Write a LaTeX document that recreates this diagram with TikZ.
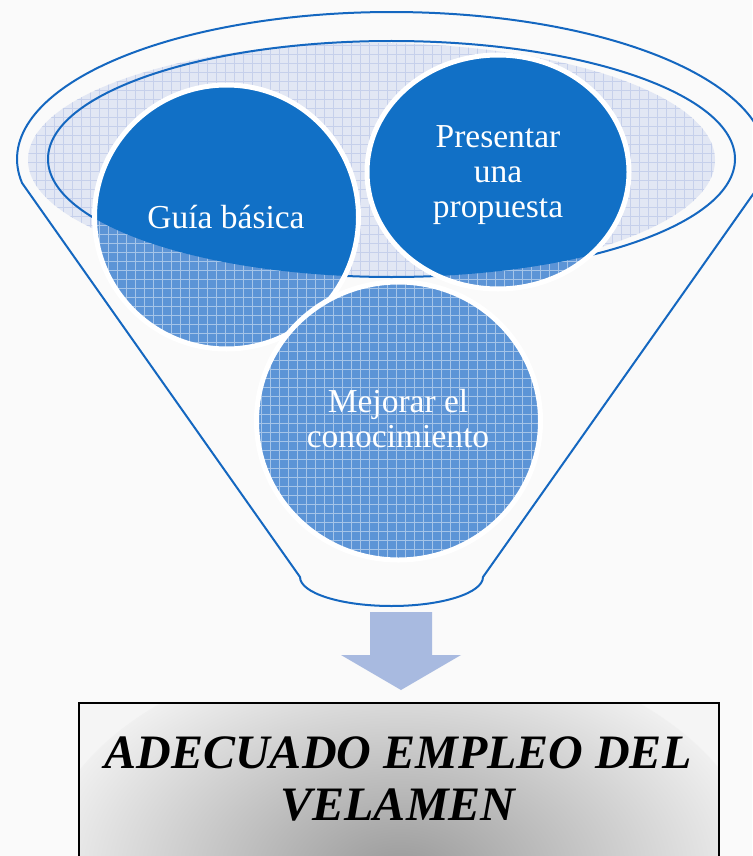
\documentclass[tikz,border=0pt]{standalone}
\usepackage{fontspec}
\setmainfont{Liberation Serif}
\begin{document}
\begin{tikzpicture}[x=1pt,y=1pt]
\definecolor{bgc}{RGB}{250,250,250}
\definecolor{outl}{RGB}{20,103,192}
\definecolor{solidblue}{RGB}{17,112,198}
\definecolor{hatchbase}{RGB}{92,148,214}
\definecolor{palebase}{RGB}{226,231,244}
\definecolor{paleline}{RGB}{198,208,235}
\definecolor{arrowc}{RGB}{168,186,224}
\tikzset{
  outline/.style={draw=outl, line width=2pt},
  ring/.style={draw=white, line width=5pt},
  hatchgrid/.style={draw=white, opacity=0.45, line width=0.9pt, step=9},
  circtext/.style={text=white, font=\fontsize{33.5}{35}\selectfont, align=center, inner sep=0pt},
  boxtext/.style={text=black, font=\bfseries\itshape\fontsize{48}{52}\selectfont, align=center, inner sep=0pt}
}
\useasboundingbox (0,-856) rectangle (752,0);
\fill[bgc] (0,-856) rectangle (752,0);

% pale inner fill of the funnel mouth
\begin{scope}
  \clip (371.5,-160) ellipse [x radius=343.5, y radius=117];
  \fill[palebase] (20,-40) rectangle (720,-280);
  \draw[paleline, line width=0.8pt, step=9] (18,-36) grid (720,-279);
\end{scope}

% funnel outline
\coordinate (rk) at (760.97,-183.01);
\coordinate (bl) at (300,-577);
\draw[outline, line join=round] (rk) arc[start angle=-9.4, end angle=189.4, x radius=374.5, y radius=147]
   -- (bl) arc[start angle=180, end angle=360, x radius=91.5, y radius=29] -- cycle;
% inner rim
\draw[outline] (391.5,-159) ellipse [x radius=343.5, y radius=118];

% circle: Guia basica
\begin{scope}
  \clip (226.5,-217) circle [radius=132];
  \fill[hatchbase] (90,-80) rectangle (362,-354);
  \draw[hatchgrid] (90,-81) grid (362,-354);
  \clip (391.5,-159) ellipse [x radius=343.5, y radius=118];
  \fill[solidblue] (90,-80) rectangle (362,-354);
\end{scope}
\draw[ring] (226.5,-217) circle [radius=132];

% circle: Presentar una propuesta
\begin{scope}
  \clip (498,-172) ellipse [x radius=131, y radius=117];
  \fill[hatchbase] (360,-50) rectangle (635,-295);
  \draw[hatchgrid] (360,-45) grid (635,-297);
  \clip (391.5,-159) ellipse [x radius=343.5, y radius=118];
  \fill[solidblue] (360,-50) rectangle (635,-295);
\end{scope}
\draw[ring] (498,-172) ellipse [x radius=131, y radius=117];

% circle: Mejorar el conocimiento
\begin{scope}
  \clip (398.5,-421) ellipse [x radius=142, y radius=139];
  \fill[hatchbase] (250,-275) rectangle (545,-565);
  \draw[hatchgrid] (252,-279) grid (545,-567);
\end{scope}
\draw[ring] (398.5,-421) ellipse [x radius=142, y radius=139];

% texts
\node[circtext, anchor=base] (guia) at (226,-228) {Guía básica};
\node[circtext] (prop) at (498,-175) {Presentar\\una\\propuesta};
\node[circtext] (mejor) at (398,-419) {Mejorar el\\conocimiento};

% arrow
\fill[arrowc] (370,-612) -- (432,-612) -- (432,-655) -- (461,-655) -- (401,-690) -- (341,-655) -- (370,-655) -- cycle;

% result box
\begin{scope}
  \clip (79,-703) rectangle (719,-870);
  \fill[gray!8] (79,-703) rectangle (719,-870);
  \shade[inner color=black!40, outer color=black!6] (400,-875) ellipse [x radius=360, y radius=230];
\end{scope}
\draw[black, line width=1.5pt] (79,-870) -- (79,-703) -- (719,-703) -- (719,-870);
\node[boxtext] (res) at (398,-779) {ADECUADO EMPLEO DEL\\VELAMEN};
\end{tikzpicture}
\end{document}
